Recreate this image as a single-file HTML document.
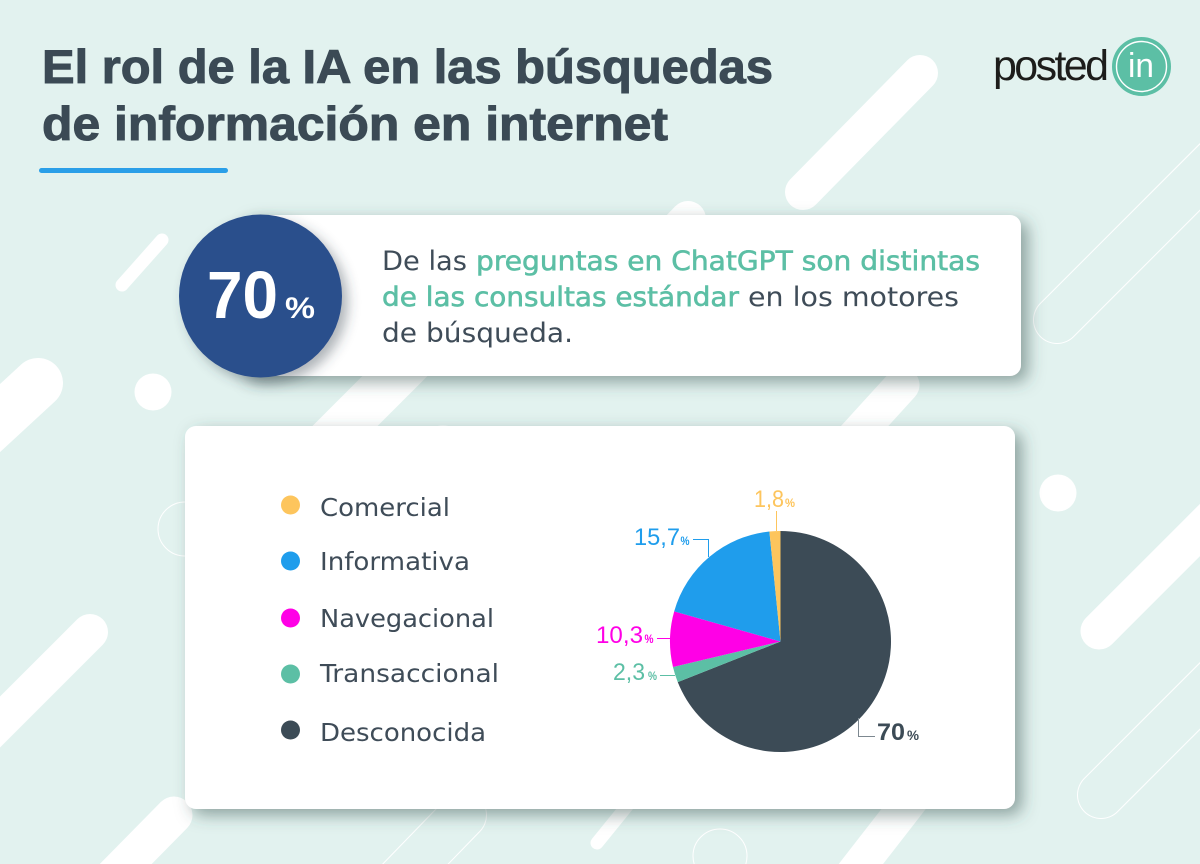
<!DOCTYPE html>
<html lang="es">
<head>
<meta charset="utf-8">
<title>El rol de la IA en las búsquedas de información en internet</title>
<style>
html,body{margin:0;padding:0;background:#e2f2ef;}
svg{display:block;}
text{font-family:"DejaVu Sans","Liberation Sans",sans-serif;}
.head{font-family:"Liberation Sans","DejaVu Sans",sans-serif;font-weight:700;font-size:47px;fill:#3b4a55;stroke:#3b4a55;stroke-width:1px;}
.body{font-size:27px;fill:#3f4c58;}
.acc{font-size:27px;fill:#5cbfa5;stroke:#5cbfa5;stroke-width:.6px;}
.leg{font-size:25px;fill:#3f4c58;}
.num{font-family:"Liberation Sans","DejaVu Sans",sans-serif;font-size:24px;}
.pct{font-family:"Liberation Sans","DejaVu Sans",sans-serif;font-size:12px;font-weight:700;}
</style>
</head>
<body>
<svg xmlns="http://www.w3.org/2000/svg" width="1200" height="864" viewBox="0 0 1200 864">
<defs>
<filter id="cardShadow" x="-10%" y="-10%" width="125%" height="130%">
<feDropShadow dx="7" dy="6" stdDeviation="8" flood-color="#38524f" flood-opacity=".5"/>
</filter>
<filter id="circleShadow" x="-20%" y="-20%" width="150%" height="150%">
<feDropShadow dx="6" dy="6" stdDeviation="6" flood-color="#38424f" flood-opacity=".4"/>
</filter>
</defs>

<rect width="1200" height="864" fill="#e2f2ef"/>

<g stroke="#fff" stroke-linecap="round" fill="none">
  <line x1="920" y1="73" x2="803" y2="192" stroke-width="36"/>
  <line x1="162" y1="240" x2="122" y2="285" stroke-width="13"/>
  <line x1="38" y1="383" x2="-40" y2="455" stroke-width="50"/>
  <line x1="90" y1="632" x2="-30" y2="752" stroke-width="36"/>
  <line x1="174" y1="815" x2="110" y2="880" stroke-width="37"/>
  <line x1="688" y1="219" x2="620" y2="290" stroke-width="36"/>
  <line x1="420" y1="351" x2="300" y2="471" stroke-width="46" stroke-linecap="butt"/>
  <line x1="902" y1="385" x2="800" y2="497" stroke-width="35"/>
  <line x1="1099" y1="631" x2="1240" y2="490" stroke-width="37"/>
  <line x1="640" y1="790" x2="597" y2="843" stroke-width="13"/>
  <line x1="930" y1="775" x2="850" y2="878" stroke-width="35"/>
  <line x1="1057" y1="320" x2="1260" y2="117" stroke-width="48"/>
  <line x1="1057" y1="320" x2="1260" y2="117" stroke-width="46" stroke="#e2f2ef"/>
  <line x1="1101" y1="795" x2="1260" y2="636" stroke-width="48"/>
  <line x1="1101" y1="795" x2="1260" y2="636" stroke-width="46" stroke="#e2f2ef"/>
  <line x1="463" y1="815" x2="400" y2="880" stroke-width="48"/>
  <line x1="463" y1="815" x2="400" y2="880" stroke-width="46" stroke="#e2f2ef"/>
  <circle cx="185" cy="529" r="27" stroke-width="1"/>
  <circle cx="720" cy="856" r="27" stroke-width="1"/>
  <circle cx="443" cy="453" r="27" stroke-width="1"/>
  <circle cx="153" cy="392" r="18.5" fill="#fff" stroke="none"/>
  <circle cx="1058" cy="493" r="18.5" fill="#fff" stroke="none"/>
</g>

<g>
  <text class="head" x="42" y="83" textLength="731" lengthAdjust="spacingAndGlyphs">El rol de la IA en las búsquedas</text>
  <text class="head" x="42" y="140" textLength="626" lengthAdjust="spacingAndGlyphs">de información en internet</text>
</g>
<rect x="39" y="168" width="189" height="5" rx="2.5" fill="#2a9fe8"/>

<g>
  <text x="993" y="80" font-size="43" fill="#1d1d1b" textLength="116" lengthAdjust="spacing" style="font-family:'Liberation Sans',sans-serif">posted</text>
  <circle cx="1141.5" cy="66.5" r="29.5" fill="#5cbfa5"/>
  <circle cx="1141.5" cy="66.5" r="25" fill="none" stroke="#fff" stroke-width="1.4"/>
  <text x="1128" y="77" font-size="34" fill="#fff" textLength="26" lengthAdjust="spacingAndGlyphs" style="font-family:'Liberation Sans',sans-serif">in</text>
</g>

<rect x="240" y="215" width="781" height="161" rx="11" fill="#fff" filter="url(#cardShadow)"/>
<circle cx="260.5" cy="296" r="81.5" fill="#2c4f8c" filter="url(#circleShadow)"/>
<text x="207" y="318" font-size="67" font-weight="700" fill="#fff" textLength="71" lengthAdjust="spacingAndGlyphs" style="font-family:'Liberation Sans',sans-serif">70</text>
<text x="285" y="318" font-size="30" font-weight="700" fill="#fff" textLength="30" lengthAdjust="spacingAndGlyphs" style="font-family:'Liberation Sans',sans-serif">%</text>

<g>
  <text class="body" x="382" y="270" textLength="85" lengthAdjust="spacingAndGlyphs">De las</text>
  <text class="acc" x="476" y="270" textLength="504" lengthAdjust="spacingAndGlyphs">preguntas en ChatGPT son distintas</text>
  <text class="acc" x="382" y="306" textLength="357" lengthAdjust="spacingAndGlyphs">de las consultas estándar</text>
  <text class="body" x="748" y="306" textLength="211" lengthAdjust="spacingAndGlyphs">en los motores</text>
  <text class="body" x="382" y="342" textLength="191" lengthAdjust="spacingAndGlyphs">de búsqueda.</text>
</g>

<rect x="185" y="426" width="830" height="383" rx="11" fill="#fff" filter="url(#cardShadow)"/>

<g>
  <g>
    <circle cx="290.5" cy="505" r="9.5" fill="#fdc55d"/>
    <text class="leg" x="320" y="516" textLength="130" lengthAdjust="spacingAndGlyphs">Comercial</text>
  </g>
  <g>
    <circle cx="290.5" cy="561" r="9.5" fill="#1f9dec"/>
    <text class="leg" x="320" y="570" textLength="150" lengthAdjust="spacingAndGlyphs">Informativa</text>
  </g>
  <g>
    <circle cx="290.5" cy="618" r="9.5" fill="#ff00e6"/>
    <text class="leg" x="320" y="627" textLength="174" lengthAdjust="spacingAndGlyphs">Navegacional</text>
  </g>
  <g>
    <circle cx="290.5" cy="674" r="9.5" fill="#5cbfa5"/>
    <text class="leg" x="320" y="682" textLength="179" lengthAdjust="spacingAndGlyphs">Transaccional</text>
  </g>
  <g>
    <circle cx="290.5" cy="730" r="9.5" fill="#3c4b56"/>
    <text class="leg" x="320" y="741" textLength="166" lengthAdjust="spacingAndGlyphs">Desconocida</text>
  </g>
</g>

<g id="pie"></g>

<g fill="none" stroke-width="1">
  <path d="M776.5 511V531" stroke="#fdc55d"/>
  <path d="M693 539.5H708.5V557" stroke="#1f9dec"/>
  <path d="M657 638.5H671" stroke="#ff00e6"/>
  <path d="M660 675.5H675" stroke="#5cbfa5"/>
  <path d="M875 736.5H858.5V718" stroke="#7d8890"/>
</g>

<g>
  <g>
    <text class="num" x="754" y="507" fill="#fdc55d" textLength="30" lengthAdjust="spacingAndGlyphs">1,8</text>
    <text class="pct" x="785" y="507" fill="#fdc55d" textLength="10" lengthAdjust="spacingAndGlyphs">%</text>
  </g>
  <g>
    <text class="num" x="634" y="545" fill="#1f9dec" textLength="46" lengthAdjust="spacingAndGlyphs">15,7</text>
    <text class="pct" x="680.5" y="545" fill="#1f9dec" textLength="9" lengthAdjust="spacingAndGlyphs">%</text>
  </g>
  <g>
    <text class="num" x="596" y="643" fill="#ff00e6" textLength="47" lengthAdjust="spacingAndGlyphs">10,3</text>
    <text class="pct" x="644.5" y="643" fill="#ff00e6" textLength="9" lengthAdjust="spacingAndGlyphs">%</text>
  </g>
  <g>
    <text class="num" x="613" y="680" fill="#5cbfa5" textLength="32" lengthAdjust="spacingAndGlyphs">2,3</text>
    <text class="pct" x="648" y="680" fill="#5cbfa5" textLength="9" lengthAdjust="spacingAndGlyphs">%</text>
  </g>
  <g>
    <text class="num" x="877" y="740" fill="#3c4b56" font-weight="700" textLength="28" lengthAdjust="spacingAndGlyphs">70</text>
    <text class="pct" x="907" y="740" fill="#3c4b56" style="font-size:14px" textLength="12" lengthAdjust="spacingAndGlyphs">%</text>
  </g>
</g>

<script>
// Categories in drawing order, clockwise from 12 o'clock.
const categories = ['Desconocida', 'Transaccional', 'Navegacional', 'Informativa', 'Comercial'];
// Slice shares as actually drawn in the picture, in percent (read from slice angles,
// which differ from the printed labels in the reference).
const sliceShares = [69, 2.3, 8.1, 19, 1.6];
const sliceColors = ['#3c4b56', '#5cbfa5', '#ff00e6', '#1f9dec', '#fdc55d'];

const pieCx = 780.5;
const pieCy = 641.5;
const pieR = 110.5;
const pieGroup = document.getElementById('pie');
const shareTotal = sliceShares.reduce(function (a, b) { return a + b; }, 0);

function angleOf(cumulative) {
  return cumulative / shareTotal * Math.PI * 2;
}
function pointAt(angle) {
  return [pieCx + pieR * Math.sin(angle), pieCy - pieR * Math.cos(angle)];
}

let running = 0;
sliceShares.forEach(function (share, i) {
  const a0 = angleOf(running);
  const a1 = angleOf(running + share);
  running += share;
  const p0 = pointAt(a0);
  const p1 = pointAt(a1);
  const large = a1 - a0 > Math.PI ? 1 : 0;
  const el = document.createElementNS('http://www.w3.org/2000/svg', 'path');
  el.setAttribute('d', 'M' + pieCx + ' ' + pieCy + 'L' + p0[0] + ' ' + p0[1] + 'A' + pieR + ' ' + pieR + ' 0 ' + large + ' 1 ' + p1[0] + ' ' + p1[1] + 'Z');
  el.setAttribute('fill', sliceColors[i]);
  
  
  pieGroup.appendChild(el);
});
</script>
</svg>
</body>
</html>
